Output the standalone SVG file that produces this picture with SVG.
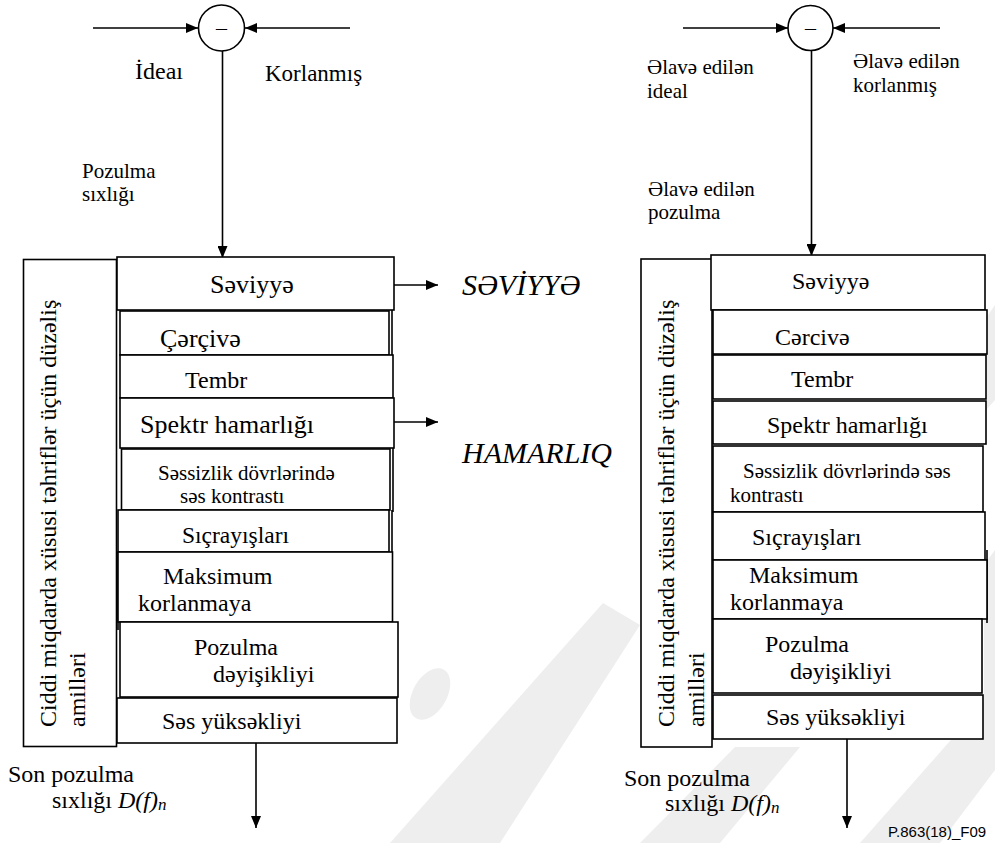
<svg xmlns="http://www.w3.org/2000/svg" width="995" height="843" viewBox="0 0 995 843">
  <defs>
    <style>
      .bx{fill:#fff;stroke:#000;stroke-width:1.6}
      .ln{fill:none;stroke:#000;stroke-width:1.6}
      .t{font-family:'Liberation Serif', 'Times New Roman', serif;fill:#000}
      .it{font-style:italic}
      .wm{fill:#eeeeee}
    </style>
    <marker id="ah" viewBox="0 0 12 10" refX="12" refY="5" markerWidth="12" markerHeight="10" markerUnits="userSpaceOnUse" orient="auto">
      <path d="M0,0 L12,5 L0,10 z" fill="#000"/>
    </marker>
  </defs>
  <rect width="995" height="843" fill="#fff"/>

  <!-- faint background mark -->
  <g id="watermark">
    <polygon class="wm" points="603,603 640,625 500,843 390,843"/>
    <ellipse class="wm" cx="430" cy="694" rx="17" ry="28" transform="rotate(30 430 694)"/>
    <polygon class="wm" points="640,843 720,843 800,747 735,747"/>
    <polygon class="wm" points="860,843 940,843 995,770 995,690"/>
    <polygon class="wm" points="986,318 995,305 995,400 986,410"/>
    <polygon class="wm" points="984,565 995,550 995,700 984,710"/>
  </g>

  <!-- connectors -->
  <g id="connectors">
    <line class="ln" x1="93" y1="28" x2="198" y2="28" marker-end="url(#ah)"/>
    <line class="ln" x1="350" y1="28" x2="245" y2="28" marker-end="url(#ah)"/>
    <line class="ln" x1="222.5" y1="51" x2="222.5" y2="258" marker-end="url(#ah)"/>
    <line class="ln" x1="394" y1="285" x2="438" y2="285" marker-end="url(#ah)"/>
    <line class="ln" x1="394" y1="422" x2="438" y2="422" marker-end="url(#ah)"/>
    <line class="ln" x1="256" y1="743" x2="256" y2="828" marker-end="url(#ah)"/>

    <line class="ln" x1="683" y1="28" x2="788" y2="28" marker-end="url(#ah)"/>
    <line class="ln" x1="940" y1="28" x2="833" y2="28" marker-end="url(#ah)"/>
    <line class="ln" x1="811.5" y1="51" x2="811.5" y2="256" marker-end="url(#ah)"/>
    <line class="ln" x1="847" y1="739" x2="847" y2="828" marker-end="url(#ah)"/>
  </g>

  <!-- left chain -->
  <g id="sub-left">
    <circle class="ln" cx="221.5" cy="28" r="23"/>
    <text class="t" x="221.5" y="34.5" font-size="22" text-anchor="middle">–</text>
  </g>
  <g id="labels-left" class="t">
    <text x="135" y="79" font-size="24">İdeaı</text>
    <text x="265" y="81" font-size="23">Korlanmış</text>
    <text x="82" y="178" font-size="21">Pozulma</text>
    <text x="82" y="201" font-size="21">sıxlığı</text>
    <text class="it" x="462" y="295" font-size="30">SƏVİYYƏ</text>
    <text class="it" x="462" y="463" font-size="30">HAMARLIQ</text>
    <text x="8" y="782" font-size="24">Son pozulma</text>
    <text x="52" y="808" font-size="24">sıxlığı <tspan class="it">D(f)</tspan><tspan class="it" font-size="17" dy="2">n</tspan></text>
  </g>
  <g id="factors-left">
    <rect class="bx" x="23.5" y="259.5" width="93" height="487"/>
    <text class="t" font-size="24" transform="translate(56 727) rotate(-90)">Ciddi miqdarda xüsusi təhriflər üçün düzəliş</text>
    <text class="t" font-size="24" transform="translate(85 727) rotate(-90)">amilləri</text>
  </g>
  <g id="level-left">
    <rect class="bx" x="117" y="257" width="277" height="53"/>
    <text class="t" x="210" y="293" font-size="26">Səviyyə</text>
  </g>
  <g id="frame-left">
    <line class="ln" x1="392" y1="310" x2="392" y2="355"/>
    <rect class="bx" x="120" y="311" width="269" height="44"/>
    <text class="t" x="160" y="347" font-size="26">Çərçivə</text>
  </g>
  <g id="timbre-left">
    <rect class="bx" x="120" y="355" width="273" height="43"/>
    <text class="t" x="185" y="388" font-size="24">Tembr</text>
  </g>
  <g id="flatness-left">
    <rect class="bx" x="120" y="398" width="274" height="50"/>
    <text class="t" x="140" y="433" font-size="26">Spektr hamarlığı</text>
  </g>
  <g id="noise-left">
    <line class="ln" x1="393" y1="448" x2="393" y2="512"/>
    <rect class="bx" x="121.5" y="449" width="268.5" height="61"/>
    <text class="t" x="158" y="480" font-size="21">Səssizlik dövrlərində</text>
    <text class="t" x="180" y="503" font-size="21">səs kontrastı</text>
  </g>
  <g id="jumps-left">
    <line class="ln" x1="392" y1="510" x2="392" y2="552"/>
    <rect class="bx" x="118" y="510" width="271" height="42"/>
    <text class="t" x="182" y="543" font-size="23.5">Sıçrayışları</text>
  </g>
  <g id="maxdist-left">
    <line class="ln" x1="118" y1="552" x2="118" y2="630"/>
    <rect class="bx" x="118" y="552" width="274.5" height="70"/>
    <text class="t" x="163" y="584" font-size="24">Maksimum</text>
    <text class="t" x="138" y="611" font-size="24">korlanmaya</text>
  </g>
  <g id="variation-left">
    <rect class="bx" x="120" y="622" width="278" height="75"/>
    <text class="t" x="194" y="655" font-size="24">Pozulma</text>
    <text class="t" x="213" y="682" font-size="24">dəyişikliyi</text>
  </g>
  <g id="loudness-left">
    <rect class="bx" x="117" y="698" width="280" height="45"/>
    <text class="t" x="162" y="729" font-size="24">Səs yüksəkliyi</text>
  </g>

  <!-- right chain -->
  <g id="sub-right">
    <circle class="ln" cx="810.5" cy="28" r="22.5"/>
    <text class="t" x="810.5" y="34.5" font-size="22" text-anchor="middle">–</text>
  </g>
  <g id="labels-right" class="t">
    <text x="647" y="74" font-size="21">Əlavə edilən</text>
    <text x="647" y="98" font-size="21">ideal</text>
    <text x="853" y="68" font-size="21">Əlavə edilən</text>
    <text x="853" y="92" font-size="21">korlanmış</text>
    <text x="648" y="196" font-size="21">Əlavə edilən</text>
    <text x="648" y="219" font-size="21">pozulma</text>
    <text x="624" y="786" font-size="24">Son pozulma</text>
    <text x="665" y="811" font-size="24">sıxlığı <tspan class="it">D(f)</tspan><tspan class="it" font-size="17" dy="2">n</tspan></text>
  </g>
  <g id="factors-right">
    <rect class="bx" x="641" y="259" width="71" height="488"/>
    <text class="t" font-size="24" transform="translate(674 727) rotate(-90)">Ciddi miqdarda xüsusi təhriflər üçün düzəliş</text>
    <text class="t" font-size="24" transform="translate(704 727) rotate(-90)">amilləri</text>
  </g>
  <g id="level-right">
    <rect class="bx" x="711" y="255" width="274" height="55"/>
    <text class="t" x="792" y="289" font-size="24">Səviyyə</text>
  </g>
  <g id="frame-right">
    <rect class="bx" x="713" y="310" width="274" height="44"/>
    <text class="t" x="775" y="345" font-size="24">Cərcivə</text>
  </g>
  <g id="timbre-right">
    <rect class="bx" x="713" y="355" width="273" height="44"/>
    <text class="t" x="791" y="387" font-size="24">Tembr</text>
  </g>
  <g id="flatness-right">
    <rect class="bx" x="713" y="401" width="273" height="43"/>
    <text class="t" x="767" y="433" font-size="24">Spektr hamarlığı</text>
  </g>
  <g id="noise-right">
    <rect class="bx" x="713" y="446" width="270" height="66"/>
    <text class="t" x="743" y="478" font-size="21">Səssizlik dövrlərində səs</text>
    <text class="t" x="730" y="502" font-size="21">kontrastı</text>
  </g>
  <g id="jumps-right">
    <line class="ln" x1="987" y1="550" x2="987" y2="623"/>
    <rect class="bx" x="713" y="512" width="272" height="48"/>
    <text class="t" x="752" y="545" font-size="24">Sıçrayışları</text>
  </g>
  <g id="maxdist-right">
    <rect class="bx" x="713" y="560" width="274" height="59"/>
    <text class="t" x="749" y="583" font-size="24">Maksimum</text>
    <text class="t" x="730" y="610" font-size="24">korlanmaya</text>
  </g>
  <g id="variation-right">
    <rect class="bx" x="713" y="619" width="269" height="74"/>
    <text class="t" x="765" y="652" font-size="24">Pozulma</text>
    <text class="t" x="790" y="679" font-size="24">dəyişikliyi</text>
  </g>
  <g id="loudness-right">
    <rect class="bx" x="713" y="695" width="270" height="44"/>
    <text class="t" x="766" y="725" font-size="24">Səs yüksəkliyi</text>
  </g>
  <text x="888" y="837" font-family="'Liberation Sans', Arial, sans-serif" font-size="15" fill="#000">P.863(18)_F09</text>
</svg>
